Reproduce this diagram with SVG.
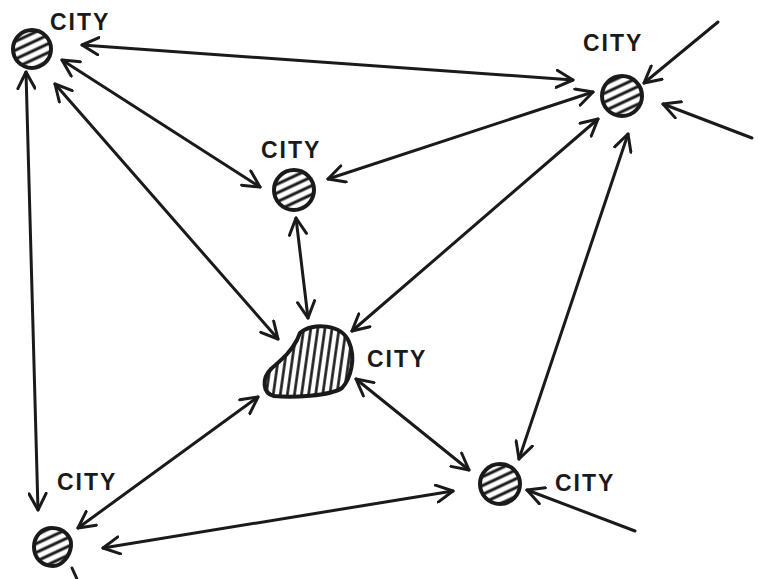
<svg xmlns="http://www.w3.org/2000/svg" width="758" height="579" viewBox="0 0 758 579">
<defs>
<style>
.lbl{font-family:"Liberation Sans","DejaVu Sans",sans-serif;font-size:23px;font-weight:bold;fill:#1a1a1a;letter-spacing:2px}
.node{stroke:#1a1a1a;stroke-width:4}
.c{fill:none;stroke:#1a1a1a;stroke-width:3;stroke-linecap:round}
</style>
<pattern id="hd" width="8" height="8" patternUnits="userSpaceOnUse" patternTransform="rotate(-25)">
<rect width="8" height="8" fill="#fff"/>
<line x1="0" y1="4" x2="8" y2="4" stroke="#1a1a1a" stroke-width="3"/>
</pattern>
<pattern id="hv" width="7" height="8" patternUnits="userSpaceOnUse" patternTransform="rotate(8)">
<rect width="7" height="8" fill="#fff"/>
<line x1="3.5" y1="0" x2="3.5" y2="8" stroke="#1a1a1a" stroke-width="2.6"/>
</pattern>
<marker id="ah" viewBox="0 0 14 14" refX="12.5" refY="7" markerWidth="20" markerHeight="20" markerUnits="userSpaceOnUse" orient="auto-start-reverse">
<path d="M1,1 L12.5,7 L1,13" fill="none" stroke="#1a1a1a" stroke-width="2.1" stroke-linecap="round" stroke-linejoin="round"/>
</marker>
</defs>
<rect width="758" height="579" fill="#fff"/>
<g id="connectors">
<line class="c" x1="82" y1="45" x2="573" y2="80" marker-start="url(#ah)" marker-end="url(#ah)"/>
<line class="c" x1="62" y1="60" x2="260" y2="187" marker-start="url(#ah)" marker-end="url(#ah)"/>
<line class="c" x1="55" y1="84" x2="278" y2="339" marker-start="url(#ah)" marker-end="url(#ah)"/>
<path class="c" d="M26,72 Q32,290 38,510" marker-start="url(#ah)" marker-end="url(#ah)"/>
<line class="c" x1="328" y1="179" x2="593" y2="92" marker-start="url(#ah)" marker-end="url(#ah)"/>
<line class="c" x1="296" y1="218" x2="308" y2="318" marker-start="url(#ah)" marker-end="url(#ah)"/>
<line class="c" x1="598" y1="119" x2="352" y2="331" marker-start="url(#ah)" marker-end="url(#ah)"/>
<line class="c" x1="628" y1="134" x2="519" y2="459" marker-start="url(#ah)" marker-end="url(#ah)"/>
<line class="c" x1="258" y1="397" x2="78" y2="528" marker-start="url(#ah)" marker-end="url(#ah)"/>
<line class="c" x1="356" y1="379" x2="469" y2="470" marker-start="url(#ah)" marker-end="url(#ah)"/>
<line class="c" x1="103" y1="548" x2="453" y2="491" marker-start="url(#ah)" marker-end="url(#ah)"/>
<line class="c" x1="718" y1="22" x2="644" y2="83" marker-end="url(#ah)"/>
<line class="c" x1="752" y1="138" x2="663" y2="104" marker-end="url(#ah)"/>
<line class="c" x1="635" y1="531" x2="527" y2="490" marker-end="url(#ah)"/>
<line class="c" x1="72" y1="568" x2="77" y2="579" stroke-width="1.5"/>
</g>
<g id="city-tl">
<circle class="node" cx="32" cy="49" r="19" fill="url(#hd)"/>
<text class="lbl" x="50" y="30">CITY</text>
</g>
<g id="city-tr">
<circle class="node" cx="622" cy="96" r="20" fill="url(#hd)"/>
<text class="lbl" x="583" y="51">CITY</text>
</g>
<g id="city-mid">
<circle class="node" cx="294" cy="190" r="20" fill="url(#hd)"/>
<text class="lbl" x="261" y="158">CITY</text>
</g>
<g id="city-center">
<path class="node" fill="url(#hv)" d="M300,333 C312,322 342,324 349,342 C356,358 351,378 342,388 C330,396 292,398 274,396 C262,393 262,378 271,369 C281,360 291,352 297,340 Z"/>
<text class="lbl" x="367" y="367">CITY</text>
</g>
<g id="city-bl">
<path class="node" fill="url(#hd)" d="M52,528 C64,528 72,537 71,546 C70,556 62,566 53,566 C42,566 34,558 34,547 C34,536 42,528 52,528 Z"/>
<text class="lbl" x="57" y="490">CITY</text>
</g>
<g id="city-br">
<circle class="node" cx="500" cy="484" r="20" fill="url(#hd)"/>
<text class="lbl" x="555" y="491">CITY</text>
</g>
</svg>
